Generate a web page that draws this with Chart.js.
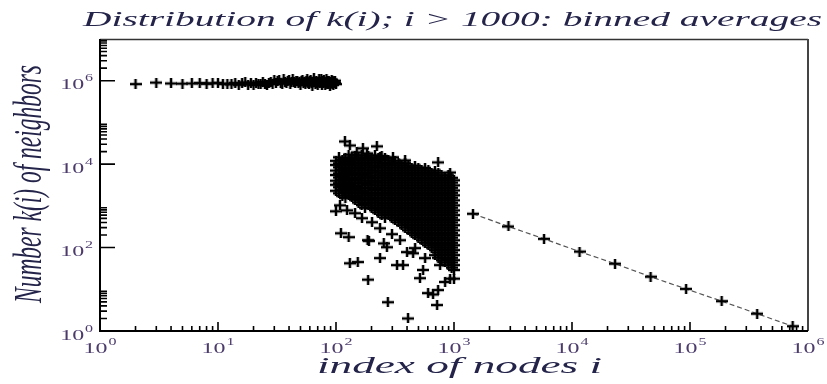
<!DOCTYPE html>
<html>
<head>
<meta charset="utf-8">
<script src="https://cdn.jsdelivr.net/npm/chart.js@4/dist/chart.umd.min.js"></script>
<style>
  html, body { margin: 0; padding: 0; background: #fff; }
  #wrap { width: 827px; height: 384px; position: relative; }
</style>
</head>
<body>
<div id="wrap"><canvas id="chart"></canvas></div>
<script>
// nodes 2..100: k(i) stays close to 10^6
const bandIndex = [2, 3, 4, 5, 6, 7, 8, 9, 10, 11, 12, 13, 14, 15, 16, 17, 18, 19, 20, 21,
  22, 23, 24, 25, 26, 27, 28, 29, 30, 31, 32, 33, 34, 35, 36, 37, 38, 39, 40, 41,
  42, 43, 44, 45, 46, 47, 48, 49, 50, 51, 52, 53, 54, 55, 56, 57, 58, 59, 60, 61,
  62, 63, 64, 65, 66, 67, 68, 69, 70, 71, 72, 73, 74, 75, 76, 77, 78, 79, 80, 81,
  82, 83, 84, 85, 86, 87, 88, 89, 90, 91, 92, 93, 94, 95, 96, 97, 98, 99, 100];
const bandK = [8.3e5, 9.0e5, 8.6e5, 8.5e5, 8.6e5, 8.8e5, 8.4e5, 8.7e5, 8.9e5, 8.3e5,
  8.5e5, 8.2e5, 8.8e5, 8.0e5, 8.6e5, 9.1e5, 8.1e5, 8.7e5, 7.9e5, 9.0e5,
  8.4e5, 8.2e5, 9.3e5, 8.5e5, 7.8e5, 8.9e5, 9.4e5, 8.3e5, 1.02e6, 8.7e5,
  9.6e5, 1.05e6, 9.0e5, 8.5e5, 1.08e6, 9.2e5, 8.8e5, 9.9e5, 1.04e6, 8.4e5,
  9.5e5, 1.1e6, 9.1e5, 8.6e5, 9.8e5, 1.0e6, 8.9e5, 9.3e5, 7.9e5, 9.6e5,
  1.06e6, 8.7e5, 9.2e5, 8.2e5, 9.9e5, 1.12e6, 9.0e5, 8.5e5, 9.7e5, 1.03e6,
  8.8e5, 7.6e5, 9.4e5, 1.15e6, 9.1e5, 8.3e5, 1.0e6, 8.9e5, 7.7e5, 9.5e5,
  1.08e6, 8.6e5, 9.2e5, 1.13e6, 8.0e5, 9.8e5, 8.7e5, 1.04e6, 9.3e5, 7.8e5,
  9.0e5, 1.1e6, 8.5e5, 9.6e5, 8.2e5, 1.01e6, 9.1e5, 7.5e5, 9.4e5, 8.8e5,
  1.06e6, 8.4e5, 9.7e5, 7.9e5, 9.2e5, 8.6e5, 1.0e6, 8.9e5, 8.3e5];

// nodes 100..1000: dense cloud, k values read column by column
const blobIndex = [100, 106, 113, 120, 128, 136, 145, 155, 165, 176, 188, 200, 214, 228,
  244, 260, 278, 296, 316, 338, 360, 385, 410, 438, 467, 498, 532, 568, 606, 646,
  690, 736, 785, 838, 894, 954, 1000];
const blobK = [
  [12000, 9600, 7000, 5500, 4000, 3200, 2300],
  [14600, 10500, 8400, 6000, 4800, 3500, 2800, 2000],
  [12800, 9200, 7300, 5200, 4200, 3000, 2400, 1750],
  [14000, 11200, 8000, 6400, 4600, 3700, 2600, 2100, 1550],
  [16800, 12000, 9700, 6900, 5600, 4000, 3200, 2300, 1800],
  [14500, 10600, 8300, 6100, 4700, 3500, 2750, 2000, 1600],
  [16000, 12600, 9200, 7200, 5300, 4200, 3000, 2400, 1750, 1400],
  [13800, 11000, 8100, 6300, 4600, 3600, 2650, 2100, 1550, 1200],
  [16400, 12200, 9500, 7000, 5500, 4000, 3100, 2300, 1800, 1350, 1050],
  [14200, 10700, 8300, 6100, 4800, 3550, 2700, 2000, 1580, 1170, 900],
  [15900, 12500, 9300, 7200, 5300, 4100, 3150, 2350, 1780, 1380, 1020],
  [14000, 10900, 8200, 6300, 4700, 3600, 2700, 2050, 1550, 1200, 880],
  [16200, 12300, 9400, 7000, 5400, 4000, 3100, 2400, 1800, 1350, 1030, 790],
  [13900, 10800, 8300, 6200, 4700, 3600, 2700, 2050, 1560, 1180, 900, 690],
  [15700, 12400, 9300, 7100, 5400, 4100, 3100, 2350, 1790, 1360, 1030, 780, 600],
  [14100, 10600, 8200, 6200, 4800, 3600, 2700, 2050, 1560, 1180, 900, 690, 520],
  [12400, 9500, 7100, 5400, 4100, 3100, 2350, 1790, 1360, 1030, 780, 600],
  [10800, 8200, 6200, 4700, 3600, 2700, 2050, 1560, 1180, 900, 690, 520],
  [12100, 9400, 7100, 5400, 4100, 3100, 2350, 1790, 1360, 1030, 780, 600, 455],
  [10700, 8200, 6200, 4700, 3600, 2700, 2050, 1560, 1180, 900, 690, 520, 400],
  [9400, 7100, 5400, 4100, 3100, 2350, 1790, 1360, 1030, 780, 600, 455, 345],
  [10600, 8200, 6200, 4700, 3600, 2700, 2050, 1560, 1180, 900, 690, 520, 400, 300],
  [9300, 7100, 5400, 4100, 3100, 2350, 1790, 1360, 1030, 780, 600, 455, 345, 260],
  [8200, 6200, 4700, 3600, 2700, 2050, 1560, 1180, 900, 690, 520, 400, 300, 225],
  [9200, 7100, 5400, 4100, 3100, 2350, 1790, 1360, 1030, 780, 600, 455, 345, 260, 198],
  [8200, 6200, 4700, 3600, 2700, 2050, 1560, 1180, 900, 690, 520, 400, 300, 225, 172],
  [7100, 5400, 4100, 3100, 2350, 1790, 1360, 1030, 780, 600, 455, 345, 260, 198, 150],
  [8100, 6200, 4700, 3600, 2700, 2050, 1560, 1180, 900, 690, 520, 400, 300, 225, 172, 130],
  [7100, 5400, 4100, 3100, 2350, 1790, 1360, 1030, 780, 600, 455, 345, 260, 198, 150, 114],
  [6200, 4700, 3600, 2700, 2050, 1560, 1180, 900, 690, 520, 400, 300, 225, 172, 130, 100],
  [7000, 5400, 4100, 3100, 2350, 1790, 1360, 1030, 780, 600, 455, 345, 260, 198, 150, 114, 87, 66],
  [6200, 4700, 3600, 2700, 2050, 1560, 1180, 900, 690, 520, 400, 300, 225, 172, 130, 100, 76, 57],
  [5400, 4100, 3100, 2350, 1790, 1360, 1030, 780, 600, 455, 345, 260, 198, 150, 114, 87, 66, 50],
  [4700, 3600, 2700, 2050, 1560, 1180, 900, 690, 520, 400, 300, 225, 172, 130, 100, 76, 57, 44],
  [5400, 4100, 3100, 2350, 1790, 1360, 1030, 780, 600, 455, 345, 260, 198, 150, 114, 87, 66, 50, 38],
  [4700, 3600, 2700, 2050, 1560, 1180, 900, 690, 520, 400, 300, 225, 172, 130, 100, 76, 57, 44, 33],
  [4100, 3100, 2350, 1790, 1360, 1030, 780, 600, 455, 345, 260, 198, 150, 114, 87, 66, 50, 38, 29]
];

// stray points around the cloud
const strayIndex = [119, 131, 169, 222, 150, 183, 236, 304, 385, 733, 927,
  100, 110, 128, 185, 190, 131, 153, 187, 275, 408, 719, 603, 664, 236, 329,
  270, 254, 450, 547, 370, 400, 515, 733, 840, 927, 1000,
  108, 124, 145, 166, 202, 236, 298, 349, 468, 569, 762];
const strayK = [35000, 28000, 23900, 26700, 19100, 18100, 14600, 14600, 12300, 11000, 6300,
  740, 220, 178, 150, 145, 42, 45, 17, 4.9, 2.0, 4.2, 8.1, 7.5, 56, 38,
  102, 126, 73, 29, 38, 78, 18.5, 9.6, 15, 18, 18,
  1030, 780, 665, 505, 405, 290, 210, 150, 97, 56, 38];

// i > 1000: binned averages (bins of doubling width)
const binIndex = [1448, 2896, 5793, 11585, 23170, 46341, 92682, 185364, 370728, 741455];
const binK = [645, 320, 162, 80, 41, 20, 10.2, 5.2, 2.6, 1.3];

const xLabelExp = [0, 1, 2, 3, 4, 5, 6];
const yLabelExp = [0, 2, 4, 6];

const textColor = "#24244a";
const tickColor = "#4b3b6b";

function crossMark(w, h, t) {
  const c = document.createElement("canvas");
  c.width = w; c.height = h;
  const g = c.getContext("2d");
  g.fillStyle = "#000";
  g.fillRect(0, (h - t) / 2, w, t);
  g.fillRect((w - t) / 2, 0, t, h);
  return c;
}
const plus = crossMark(12, 10, 2.5);

const bandData = bandIndex.map((i, n) => ({ x: i, y: bandK[n] }));
const blobData = [];
blobIndex.forEach((i, n) => blobK[n].forEach(k => blobData.push({ x: i, y: k })));
const strayData = strayIndex.map((i, n) => ({ x: i, y: strayK[n] }));
const binData = binIndex.map((i, n) => ({ x: i, y: binK[n] }));

function drawFit(ctx, text, font, left, baseY, width) {
  ctx.save();
  ctx.font = font;
  const w = ctx.measureText(text).width;
  ctx.translate(left, baseY);
  ctx.scale(width / w, 1);
  ctx.fillText(text, 0, 0);
  ctx.restore();
}

function drawPower(ctx, exp, x, baseY, align) {
  const sx = 1.6;
  ctx.font = "15px 'Liberation Serif'";
  const w1 = ctx.measureText("10").width;
  ctx.font = "10px 'Liberation Serif'";
  const w2 = ctx.measureText(String(exp)).width;
  const total = (w1 + w2 + 0.5) * sx;
  const left = align === "center" ? x - total / 2 : x - total;
  ctx.save();
  ctx.translate(left, baseY);
  ctx.scale(sx, 1);
  ctx.font = "15px 'Liberation Serif'";
  ctx.fillText("10", 0, 0);
  ctx.font = "10px 'Liberation Serif'";
  ctx.fillText(String(exp), w1 + 0.5, -8);
  ctx.restore();
}

const axisDecor = {
  id: "axisDecor",
  afterDraw(chart) {
    const { ctx, chartArea: a } = chart;
    const xs = chart.scales.x, ys = chart.scales.y;
    ctx.save();

    // frame
    ctx.strokeStyle = "#333"; ctx.lineWidth = 1.5;
    ctx.beginPath(); ctx.moveTo(a.left, a.top + 0.5); ctx.lineTo(a.right, a.top + 0.5); ctx.stroke();
    ctx.strokeStyle = "#444"; ctx.lineWidth = 2;
    ctx.beginPath(); ctx.moveTo(a.right, a.top); ctx.lineTo(a.right, a.bottom); ctx.stroke();
    ctx.strokeStyle = "#000"; ctx.lineWidth = 2;
    ctx.beginPath(); ctx.moveTo(a.left, a.top); ctx.lineTo(a.left, a.bottom); ctx.lineTo(a.right, a.bottom); ctx.stroke();

    // inward ticks
    ctx.lineWidth = 1.6;
    ctx.beginPath();
    for (let e = 0; e < 6; e++) {
      for (let m = 1; m <= 9; m++) {
        if (m === 1 && e === 0) continue;
        const px = xs.getPixelForValue(m * Math.pow(10, e));
        const len = m === 1 ? 9 : 5;
        ctx.moveTo(px, a.bottom); ctx.lineTo(px, a.bottom - len);
      }
    }
    for (let e = 0; e < 7; e += 2) {
      for (let m = 1; m <= 9; m++) {
        if (m === 1 && e === 0) continue;
        const py = ys.getPixelForValue(m * Math.pow(10, e));
        const len = m === 1 ? 15 : 7;
        ctx.moveTo(a.left, py); ctx.lineTo(a.left + len, py);
      }
    }
    ctx.stroke();

    // tick labels
    ctx.fillStyle = tickColor;
    ctx.textAlign = "left";
    ctx.textBaseline = "alphabetic";
    xLabelExp.forEach(e => drawPower(ctx, e, xs.getPixelForValue(Math.pow(10, e)), 353, "center"));
    yLabelExp.forEach(e => drawPower(ctx, e, 93, ys.getPixelForValue(Math.pow(10, e)) + 8.5, "right"));

    // titles
    ctx.fillStyle = textColor;
    drawFit(ctx, "Distribution of k(i); i > 1000: binned averages", "italic 21px 'Liberation Serif'", 83, 26, 739);
    drawFit(ctx, "index of nodes i", "italic 24px 'Liberation Serif'", 317, 373, 285);

    const yTitle = "Number k(i) of neighbors";
    ctx.font = "italic 23px 'Liberation Serif'";
    const tw = ctx.measureText(yTitle).width;
    ctx.translate(41, 303);
    ctx.scale(1.7, 1);
    ctx.rotate(-Math.PI / 2);
    ctx.scale(238 / tw, 1);
    ctx.fillText(yTitle, 0, 0);
    ctx.restore();
  }
};

const markerStyle = {
  showLine: false,
  pointStyle: plus,
  pointRadius: 5,
  pointHoverRadius: 5,
  borderColor: "#000",
  backgroundColor: "#000"
};

new Chart(document.getElementById("chart"), {
  type: "scatter",
  data: {
    datasets: [
      Object.assign({ label: "binned averages", data: binData }, markerStyle, {
        showLine: true,
        borderColor: "#555",
        borderWidth: 1.2,
        borderDash: [5, 3]
      }),
      Object.assign({ label: "i <= 100", data: bandData }, markerStyle),
      Object.assign({ label: "100 < i <= 1000", data: blobData }, markerStyle),
      Object.assign({ label: "stray", data: strayData }, markerStyle)
    ]
  },
  options: {
    responsive: true,
    maintainAspectRatio: false,
    animation: false,
    layout: { padding: { left: 100, right: 19, top: 39, bottom: 53 } },
    plugins: {
      legend: { display: false },
      tooltip: { enabled: false },
      title: { display: false }
    },
    scales: {
      x: { type: "logarithmic", min: 1, max: 1e6, display: false },
      y: { type: "logarithmic", min: 1, max: 1e7, display: false }
    }
  },
  plugins: [axisDecor]
});
</script>
</body>
</html>
